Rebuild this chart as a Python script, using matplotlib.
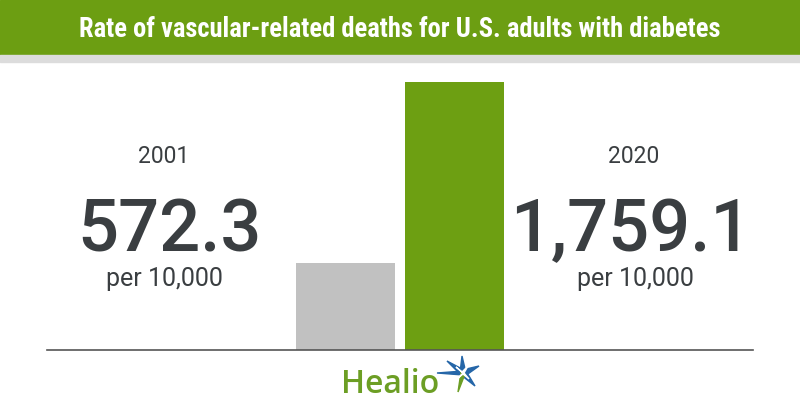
import matplotlib
matplotlib.use("Agg")
import matplotlib.pyplot as plt
from matplotlib import font_manager
from matplotlib.patches import Rectangle, Polygon

# data
years = ["2001", "2020"]
rates = [572.3, 1759.1]
rate_labels = ["572.3", "1,759.1"]
unit = "per 10,000"
title = "Rate of vascular-related deaths for U.S. adults with diabetes"

bar_colors = ["#c1c1c1", "#6d9f12"]
band_green = "#6c9e12"
ink = "#3a3e41"

W, H = 800, 420


def fx(x):
    return x / W


def fy(y):
    return 1 - y / H


names = {f.name for f in font_manager.fontManager.ttflist}
cond = next((n for n in ["Roboto Condensed", "Liberation Sans Narrow",
                         "DejaVu Sans Condensed", "DejaVu Sans"] if n in names),
            "DejaVu Sans")

fig = plt.figure(figsize=(8, 4.2), dpi=100)
fig.patch.set_facecolor("white")

# header band
fig.patches.append(Rectangle((0, fy(54)), 1, 54 / H, transform=fig.transFigure,
                             color=band_green, zorder=0))
fig.patches.append(Rectangle((0, fy(62)), 1, 7 / H, transform=fig.transFigure,
                             color="#dcdcdc", zorder=0))
t = fig.text(0.5, fy(37), title, ha="center", va="baseline", color="white",
             fontsize=16, fontweight="bold", family=cond, stretch="condensed")
fig.canvas.draw()
w = t.get_window_extent().width
t.set_fontsize(16 * 642 / w)

# bars
ax = fig.add_axes([fx(47), fy(350), (753 - 47) / W, (350 - 82) / H])
ax.bar([0, 1], rates, width=99 / 109, color=bar_colors, zorder=1)
ax.set_xlim(0.5 - 353 / 109, 0.5 + 353 / 109)
ax.set_ylim(0, max(rates))
for s in ["top", "left", "right"]:
    ax.spines[s].set_visible(False)
ax.spines["bottom"].set_color("#555555")
ax.spines["bottom"].set_linewidth(1.2)
ax.spines["bottom"].set_zorder(3)
ax.set_xticks([])
ax.set_yticks([])
ax.patch.set_alpha(0)

# side labels
centers = [(164, 169, 164), (634, 631, 635)]
for (cy, cn, cu), yr, lab in zip(centers, years, rate_labels):
    fig.text(fx(cy), fy(163), yr, ha="center", va="baseline", color=ink,
             fontsize=16.5, family="Roboto")
    fig.text(fx(cn), fy(251), lab, ha="center", va="baseline", color=ink,
             fontsize=52, family="Roboto", fontweight="medium")
    fig.text(fx(cu), fy(286), unit, ha="center", va="baseline", color=ink,
             fontsize=18, family="Roboto")

# logo
fig.text(fx(341), fy(393), "Healio", ha="left", va="baseline", color="#6c9e24",
         fontsize=23, family="Open Sans", fontweight="semibold")
cx, cy = 463, 373
blue = "#2566a8"
spikes = [
    ([(cx, cy - 2), (437, 373), (cx, cy + 2)], blue),
    ([(cx + 1, cy - 3), (447, 361), (cx - 3, cy + 1)], blue),
    ([(cx - 3, cy), (462, 356), (cx + 3, cy)], blue),
    ([(cx - 1, cy - 3), (479, 366), (cx + 2, cy + 3)], blue),
    ([(cx + 3, cy - 2), (475, 386), (cx - 2, cy + 2)], blue),
    ([(cx + 2, cy + 1), (458, 392), (cx - 2, cy - 1)], "#6c9e24"),
    ([(cx, cy), (cx - 7, cy - 6), (cx - 1, cy - 1), (cx + 5, cy - 7),
      (cx + 1, cy), (cx + 6, cy + 6), (cx, cy + 1), (cx - 6, cy + 6)], "white"),
]
for pts, c in spikes:
    fig.patches.append(Polygon([(fx(x), fy(y)) for x, y in pts], closed=True,
                               transform=fig.transFigure, color=c, zorder=2))

fig.savefig("out.png", dpi=100)
